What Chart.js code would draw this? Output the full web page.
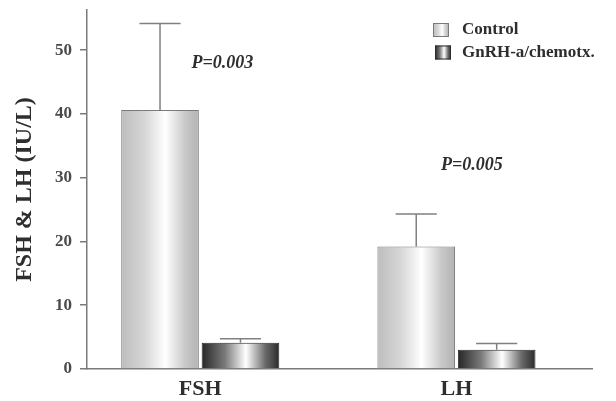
<!DOCTYPE html>
<html>
<head>
<meta charset="utf-8">
<script src="https://cdn.jsdelivr.net/npm/chart.js@4.4.1/dist/chart.umd.min.js"></script>
<style>
  body { margin: 0; background: #fff; }
  #wrap { width: 616px; height: 401px; position: relative; }
</style>
</head>
<body>
<div id="wrap"><canvas id="hormoneChart"></canvas></div>
<script>
// data
const categories = ['FSH', 'LH'];
const seriesNames = ['Control', 'GnRH-a/chemotx.'];
const controlMean = [40.6, 19.2];
const controlSD = [13.6, 5.1];
const treatedMean = [4.1, 3.0];
const treatedSD = [0.65, 1.0];
const pValues = ['P=0.003', 'P=0.005'];
const yTicks = [0, 10, 20, 30, 40, 50];

const serif = "'Liberation Serif', 'DejaVu Serif', serif";

// gradient stops for the two bar styles (edge, centre, edge)
const barStyles = [
  { stops: ['#bdbdbd', '#d6d6d6', '#ffffff', '#c9c9c9', '#b3b3b3'], border: '#7a7a7a' },
  { stops: ['#262626', '#7a7a7a', '#ffffff', '#6a6a6a', '#2a2a2a'], border: '#2a2a2a' }
];

function makeGradient(ctx, x0, x1, stops) {
  const g = ctx.createLinearGradient(x0, 0, x1, 0);
  g.addColorStop(0, stops[0]);
  g.addColorStop(0.3, stops[1]);
  g.addColorStop(0.57, stops[2]);
  g.addColorStop(0.82, stops[3]);
  g.addColorStop(1, stops[4]);
  return g;
}

// shaded bars
const shadePlugin = {
  id: 'shade',
  beforeDatasetsDraw(chart) {
    const ctx = chart.ctx;
    chart.data.datasets.forEach((ds, d) => {
      chart.getDatasetMeta(d).data.forEach(bar => {
        const g = makeGradient(ctx, bar.x - bar.width / 2, bar.x + bar.width / 2, barStyles[d].stops);
        bar.options = Object.assign({}, bar.options, { backgroundColor: g });
      });
    });
  }
};

// upper error bars + p values
const errorPlugin = {
  id: 'errors',
  afterDatasetsDraw(chart) {
    const ctx = chart.ctx;
    const y = chart.scales.y;
    const x = chart.scales.x;
    const sds = [controlSD, treatedSD];
    ctx.save();
    ctx.strokeStyle = '#808080';
    ctx.lineWidth = 1.5;
    chart.data.datasets.forEach((ds, d) => {
      chart.getDatasetMeta(d).data.forEach((bar, i) => {
        const top = y.getPixelForValue(ds.data[i].y + sds[d][i]);
        const half = bar.width * 0.265;
        ctx.beginPath();
        ctx.moveTo(bar.x, bar.y);
        ctx.lineTo(bar.x, top);
        ctx.moveTo(bar.x - half, top);
        ctx.lineTo(bar.x + half, top);
        ctx.stroke();
      });
    });
    // p values
    ctx.fillStyle = '#2e2e2e';
    ctx.font = 'italic bold 18px ' + serif;
    ctx.textAlign = 'center';
    ctx.textBaseline = 'middle';
    const pPos = [[0.086, 47.9], [0.06, 32]];
    pValues.forEach((p, i) => {
      ctx.fillText(p, x.getPixelForValue(i + pPos[i][0]), y.getPixelForValue(pPos[i][1]));
    });
    ctx.restore();
  }
};

// legend in the upper right corner
const legendPlugin = {
  id: 'cornerLegend',
  afterDraw(chart) {
    const ctx = chart.ctx;
    const left = chart.chartArea.right - 159;
    ctx.save();
    ctx.font = 'bold 17px ' + serif;
    ctx.textBaseline = 'middle';
    ctx.textAlign = 'left';
    chart.data.datasets.forEach((ds, d) => {
      const cy = 30 + d * 22.5;
      const bx = left + d * 2;
      ctx.fillStyle = makeGradient(ctx, bx, bx + 16, barStyles[d].stops);
      ctx.fillRect(bx, cy - 7, 16, 14);
      ctx.strokeStyle = barStyles[d].border;
      ctx.lineWidth = 1;
      ctx.strokeRect(bx + 0.5, cy - 6.5, 15, 13);
      ctx.fillStyle = '#2e2e2e';
      ctx.fillText(ds.label, left + 29, cy);
    });
    ctx.restore();
  }
};

new Chart(document.getElementById('hormoneChart'), {
  type: 'bar',
  data: {
    datasets: [
      {
        label: seriesNames[0],
        data: categories.map((c, i) => ({ x: i, y: controlMean[i] })),
        backgroundColor: '#dddddd',
        borderColor: barStyles[0].border,
        borderWidth: 1
      },
      {
        label: seriesNames[1],
        data: categories.map((c, i) => ({ x: i, y: treatedMean[i] })),
        backgroundColor: '#555555',
        borderColor: barStyles[1].border,
        borderWidth: 1
      }
    ]
  },
  options: {
    responsive: true,
    maintainAspectRatio: false,
    animation: false,
    categoryPercentage: 0.628,
    barPercentage: 0.965,
    layout: { padding: { top: 10, right: 24, left: 0, bottom: 0 } },
    plugins: {
      legend: { display: false },
      tooltip: { enabled: false }
    },
    scales: {
      x: {
        type: 'linear',
        offset: false,
        min: -0.442,
        max: 1.529,
        grid: { display: false, drawTicks: false, tickLength: 0 },
        border: { color: '#7a7a7a', width: 1.5 },
        ticks: {
          stepSize: 1,
          includeBounds: false,
          padding: 7,
          color: '#2e2e2e',
          font: { family: serif, size: 22, weight: 'bold' },
          callback: v => categories[v] !== undefined ? categories[v] : ''
        },
        afterFit: s => { s.height = 32; s.paddingLeft = 0; s.paddingRight = 0; }
      },
      y: {
        min: 0,
        max: 56.3,
        grid: { display: true, drawOnChartArea: false, tickLength: 7, color: '#7a7a7a', lineWidth: 1.5 },
        border: { color: '#7a7a7a', width: 1.5 },
        ticks: {
          stepSize: 10,
          includeBounds: false,
          padding: 8,
          color: '#4a4a4a',
          font: { family: serif, size: 17, weight: 'bold' },
          callback: v => yTicks.includes(v) ? v : ''
        },
        title: {
          display: true,
          text: 'FSH & LH (IU/L)',
          color: '#2e2e2e',
          font: { family: serif, size: 24, weight: 'bold' },
          padding: { top: 10, bottom: 0 }
        },
        afterFit: s => { s.width = 87; s.paddingTop = 0; s.paddingBottom = 0; }
      }
    }
  },
  plugins: [shadePlugin, errorPlugin, legendPlugin]
});
</script>
</body>
</html>
